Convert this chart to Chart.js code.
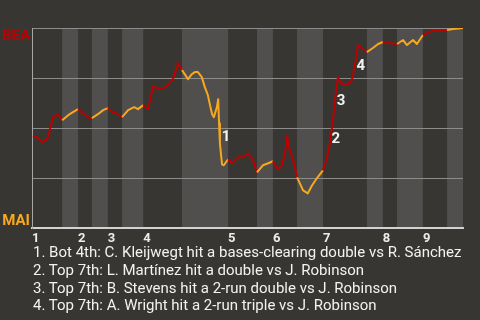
<!DOCTYPE html>
<html>
<head>
<meta charset="utf-8">
<script src="https://cdn.jsdelivr.net/npm/chart.js@4"></script>
<style>
  body { margin: 0; background: #383632; width: 480px; height: 320px; overflow: hidden; position: relative; font-family: Roboto, sans-serif; }
  #wp { display: block; }
  #notes { position: absolute; left: 33px; top: 244px; color: #f2f2f2; font-size: 15px; line-height: 17.8px; white-space: nowrap; }
</style>
</head>
<body>
<canvas id="wp" width="480" height="250"></canvas>
<div id="notes"></div>
<script>
// game progress (0-100) and BEA win probability (%)
const progress = [0.2, 1.2, 2.3, 3.2, 3.7, 4.4, 4.9, 5.8, 6.3, 7.0,
  8.4, 9.5, 10.7, 11.8, 13.0, 13.9, 15.3, 16.5, 17.6, 18.8,
  20.0, 20.9, 22.3, 23.7, 24.6, 25.8, 26.9, 28.1, 29.5, 30.9,
  32.0, 32.7, 33.9, 34.8, 36.2, 37.1, 37.8, 38.5, 39.4, 40.1,
  40.8, 41.3, 41.8, 42.2, 42.9, 43.2, 43.4, 43.6, 43.9, 44.1,
  44.5, 45.5, 46.4, 47.8, 49.0, 50.1, 51.3, 52.2, 53.6, 54.8,
  55.9, 56.4, 57.1, 58.0, 58.7, 59.2, 59.6, 60.6, 61.5, 62.9,
  64.0, 65.0, 66.1, 67.5, 68.4, 69.1, 69.6, 70.1, 70.5, 71.0,
  71.5, 72.2, 73.3, 74.2, 74.7, 75.4, 75.6, 76.8, 77.7, 79.1,
  80.3, 81.4, 82.6, 84.7, 86.1, 87.0, 88.4, 89.3, 90.7, 91.9,
  93.0, 96.3, 97.7, 100];
const winProb = [46, 45.5, 43, 44, 45.5, 51.5, 55.5, 56.5, 56.5, 54,
  56.5, 58, 59.5, 57.5, 55.5, 55, 57, 59, 60, 58,
  57, 55.5, 59, 60.5, 59.5, 61.5, 59.5, 71, 69.5, 70.5,
  72.5, 74.5, 82.5, 79, 74.5, 77, 78, 78, 75.5, 70.5,
  66.5, 61.5, 57, 55.5, 60.5, 64.5, 52.5, 42.5, 36, 32,
  31.5, 34.5, 32.5, 35.5, 35.5, 37.5, 34, 28, 31.5, 32.5,
  33.5, 31.5, 29.5, 31.5, 37.5, 46.5, 40.5, 34, 25.5, 19,
  17.5, 21.5, 25, 29, 35, 42.5, 50, 59, 68, 75.5,
  73, 72, 72, 74, 79, 87.5, 91.5, 89.5, 88, 90,
  92, 93, 92.5, 92, 94, 91.5, 94, 92, 96.5, 97.5,
  99, 99, 99.5, 100];

const innings = ['1', '2', '3', '4', '5', '6', '7', '8', '9'];
const inningStart = [0, 10.7, 17.6, 25.8, 45.5, 55.9, 67.5, 81.4, 90.7];
const bottomStart = [7.0, 13.9, 20.9, 34.8, 52.2, 61.5, 77.7, 84.7, 96.3];

const teamTop = 'BEA';
const teamBottom = 'MAI';

// key plays: label, progress, win probability
const playLabels = ['1', '2', '3', '4'];
const playX = [45.0, 70.5, 71.7, 76.3];
const playY = [45.5, 44.5, 63.5, 81];
const playNotes = [
  '1. Bot 4th: C. Kleijwegt hit a bases-clearing double vs R. Sánchez',
  '2. Top 7th: L. Martínez hit a double vs J. Robinson',
  '3. Top 7th: B. Stevens hit a 2-run double vs J. Robinson',
  '4. Top 7th: A. Wright hit a 2-run triple vs J. Robinson'
];

const RED = '#bd0000';
const GOLD = '#f7a81e';

document.getElementById('notes').innerHTML = playNotes.map(n => '<div>' + n + '</div>').join('');

function inBottomHalf(x) {
  for (let i = 0; i < bottomStart.length; i++) {
    const end = i + 1 < inningStart.length ? inningStart[i + 1] : 100;
    if (x >= bottomStart[i] && x < end) return true;
  }
  return false;
}

const decor = {
  id: 'decor',
  beforeDraw(chart) {
    const { ctx, chartArea, scales } = chart;
    ctx.save();
    ctx.fillStyle = '#504f4d';
    bottomStart.forEach((s, i) => {
      const end = i + 1 < inningStart.length ? inningStart[i + 1] : 100;
      const x0 = scales.x.getPixelForValue(s);
      const x1 = scales.x.getPixelForValue(end);
      ctx.fillRect(x0, chartArea.top, x1 - x0, chartArea.bottom - chartArea.top);
    });
    ctx.restore();
  },
  afterDraw(chart) {
    const { ctx, chartArea, scales } = chart;
    ctx.save();
    ctx.font = 'bold 15px Roboto';
    ctx.textAlign = 'right';
    ctx.textBaseline = 'alphabetic';
    ctx.fillStyle = RED;
    ctx.fillText(teamTop, chartArea.left - 2, chartArea.top + 11.5);
    ctx.fillStyle = GOLD;
    ctx.fillText(teamBottom, chartArea.left - 2, chartArea.bottom - 3);

    ctx.font = 'bold 15px Roboto';
    ctx.textAlign = 'center';
    ctx.textBaseline = 'middle';
    ctx.fillStyle = '#f2f2f2';
    playLabels.forEach((t, i) => {
      ctx.fillText(t, scales.x.getPixelForValue(playX[i]), scales.y.getPixelForValue(playY[i]));
    });
    ctx.restore();
  }
};

const ctx = document.getElementById('wp').getContext('2d');
new Chart(ctx, {
  type: 'line',
  data: {
    datasets: [{
      data: progress.map((x, i) => ({ x: x, y: winProb[i] })),
      borderColor: RED,
      borderWidth: 2,
      pointRadius: 0,
      tension: 0,
      borderJoinStyle: 'round',
      segment: {
        borderColor: c => inBottomHalf(c.p0.parsed.x) ? GOLD : RED
      }
    }]
  },
  options: {
    responsive: false,
    animation: false,
    layout: { padding: { left: 32, right: 17, top: 28, bottom: 0 } },
    plugins: { legend: { display: false }, tooltip: { enabled: false } },
    scales: {
      x: {
        type: 'linear',
        min: 0,
        max: 100,
        afterBuildTicks: scale => { scale.ticks = inningStart.map(v => ({ value: v })); },
        ticks: {
          autoSkip: false,
          maxRotation: 0,
          align: 'start',
          padding: 3,
          color: '#ececec',
          font: { family: 'Roboto', size: 13, weight: 'bold' },
          callback: (v, i) => innings[i]
        },
        grid: { display: false, drawTicks: false },
        border: { display: true, color: '#d2d2d2', width: 2 }
      },
      y: {
        min: 0,
        max: 100,
        ticks: { display: false, stepSize: 25 },
        grid: {
          drawTicks: false,
          color: c => c.tick.value === 0 ? 'rgba(0,0,0,0)' : '#8c8c8c',
          lineWidth: 1
        },
        border: { display: true, color: '#a6a6a6', width: 1 }
      }
    }
  },
  plugins: [decor]
});
</script>
</body>
</html>
